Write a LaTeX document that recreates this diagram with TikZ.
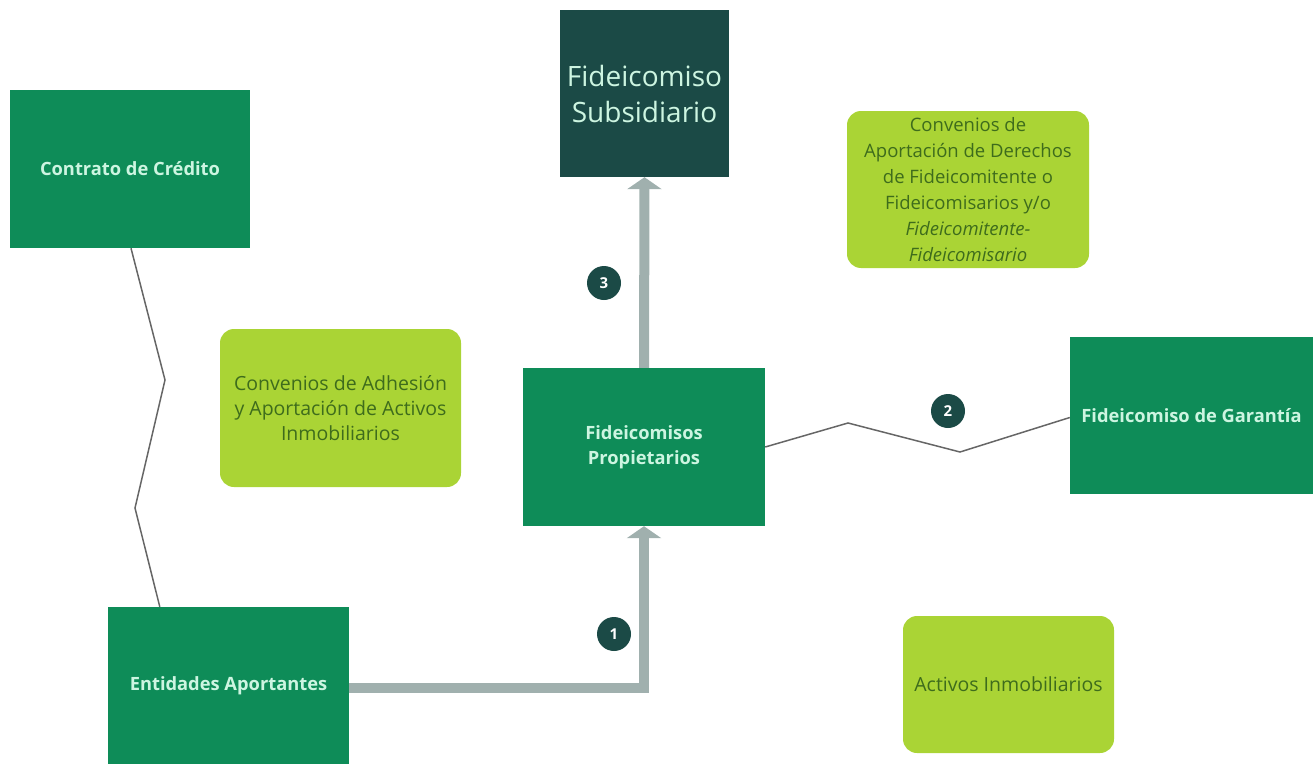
\documentclass[tikz,border=0pt]{standalone}
\usepackage{fontspec}
\setmainfont{Open Sans}
\usetikzlibrary{arrows.meta}
\definecolor{verde}{RGB}{14,140,88}
\definecolor{verdeosc}{RGB}{27,74,70}
\definecolor{lima}{RGB}{170,212,53}
\definecolor{menta}{RGB}{205,245,225}
\definecolor{textolima}{RGB}{62,108,28}
\definecolor{flecha}{RGB}{160,176,174}
\begin{document}
\begin{tikzpicture}[x=1pt,y=-1pt,
  caja/.style={fill=verde,text=menta,align=center,inner sep=0pt,font=\fontsize{18.3}{25}\selectfont\bfseries},
  convenio/.style={fill=lima,text=textolima,rounded corners=14pt,align=center,inner sep=0pt,font=\fontsize{19.5}{25}\selectfont},
  num/.style={circle,fill=verdeosc,text=white,minimum size=34pt,inner sep=0pt,font=\fontsize{15}{15}\selectfont\bfseries},
  paso/.style={draw=flecha,line width=10pt,-{Triangle[width=34pt,length=12pt]}},
  enlace/.style={draw=black!60,line width=1.5pt}]
\useasboundingbox (0,0) rectangle (1315,771);
\node[caja,minimum width=240pt,minimum height=158pt] (credito) at (130,169) {Contrato de Crédito};
\node[fill=verdeosc,text=menta,align=center,minimum width=169pt,minimum height=167pt,font=\fontsize{28}{36}\selectfont] (subsidiario) at (644.5,93.5) {Fideicomiso\\Subsidiario};
\node[convenio,minimum width=242pt,minimum height=157pt,font=\fontsize{18.5}{26}\selectfont] (derechos) at (968,189.5) {Convenios de\\Aportación de Derechos\\de Fideicomitente o\\Fideicomisarios y/o\\\textit{Fideicomitente-}\\\textit{Fideicomisario}};
\node[convenio,minimum width=241pt,minimum height=158pt] (adhesion) at (340.5,408) {Convenios de Adhesión\\y Aportación de Activos\\Inmobiliarios};
\node[caja,minimum width=242pt,minimum height=158pt] (propietarios) at (644,447) {Fideicomisos\\Propietarios};
\node[caja,minimum width=243pt,minimum height=157pt] (garantia) at (1191.5,415.5) {Fideicomiso de Garantía};
\node[caja,minimum width=241pt,minimum height=157pt] (entidades) at (228.5,685.5) {Entidades Aportantes};
\node[convenio,minimum width=211pt,minimum height=137pt] (activos) at (1008.5,684.5) {Activos Inmobiliarios};

% quiebres de las lineas
\coordinate (q1) at (165,380);
\coordinate (q2) at (135,508);
\coordinate (q3) at (848,423);
\coordinate (q4) at (960,452);

\draw[enlace] ([xshift=1pt]credito.south) -- (q1) -- (q2) -- ([xshift=52pt]entidades.north west);
\draw[enlace] (propietarios.east) -- (q3) -- (q4) -- ([yshift=-2pt]garantia.west);
\draw[paso] ([yshift=-2.5pt]entidades.east) -- ([yshift=-2.5pt]entidades.east -| propietarios.south) -- (propietarios.south);
\draw[paso] (propietarios.north) -- (subsidiario.south);

\node[num] (n1) at (614,634) {1};
\node[num] (n2) at (948,411) {2};
\node[num] (n3) at (604,283) {3};
\end{tikzpicture}
\end{document}
